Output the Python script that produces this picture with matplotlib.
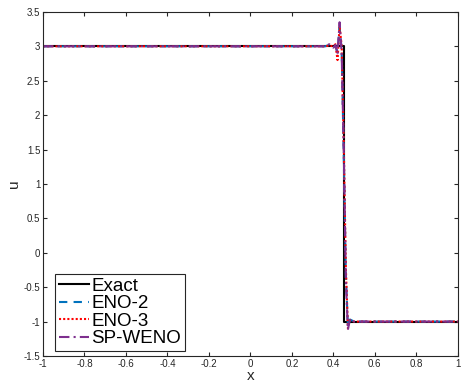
import matplotlib
matplotlib.use('Agg')
import matplotlib.pyplot as plt

plt.rcParams['font.family'] = ['Liberation Sans', 'DejaVu Sans']

# Exact solution (single shock)
exact_x = [-1.0, 0.452, 0.452, 1.0]
exact_u = [3.0, 3.0, -1.0, -1.0]

# Numerical solutions, sampled around the shock
num_x = [-1.0, 0.36, 0.38, 0.40, 0.41, 0.42, 0.43, 0.44, 0.45, 0.46, 0.47, 0.48, 0.50, 1.0]
eno2_u = [3.0, 3.0, 3.02, 2.99, 3.0, 2.92, 3.28, 2.95, 1.4, -0.3, -1.08, -0.97, -1.0, -1.0]
eno3_u = [3.0, 3.0, 3.01, 3.0, 3.03, 2.8, 3.3, 3.0, 1.6, -0.2, -1.1, -0.98, -1.0, -1.0]
spweno_u = [3.0, 3.0, 3.03, 2.98, 3.02, 2.88, 3.35, 2.9, 1.5, -0.4, -1.12, -0.96, -1.0, -1.0]

xticks = [-1, -0.8, -0.6, -0.4, -0.2, 0, 0.2, 0.4, 0.6, 0.8, 1]
xtick_labels = ['-1', '-0.8', '-0.6', '-0.4', '-0.2', '0', '0.2', '0.4', '0.6', '0.8', '1']
yticks = [-1.5, -1, -0.5, 0, 0.5, 1, 1.5, 2, 2.5, 3, 3.5]
ytick_labels = ['-1.5', '-1', '-0.5', '0', '0.5', '1', '1.5', '2', '2.5', '3', '3.5']

axis_color = '#262626'

fig = plt.figure(figsize=(4.62, 3.84), dpi=100)
ax = fig.add_axes([0.093, 0.073, 0.898, 0.896])

ax.plot(exact_x, exact_u, color='black', lw=1.5, label='Exact')
ax.plot(num_x, eno2_u, color=(0.0, 0.447, 0.741), lw=1.5, ls=(0, (4, 3)), label='ENO-2')
ax.plot(num_x, eno3_u, color='red', lw=1.5, ls=(0, (1, 1)), label='ENO-3')
ax.plot(num_x, spweno_u, color=(0.494, 0.184, 0.556), lw=1.5, ls=(0, (5, 2, 1, 2)), label='SP-WENO')

ax.set_xlim(-1, 1)
ax.set_ylim(-1.5, 3.5)
ax.set_xticks(xticks)
ax.set_xticklabels(xtick_labels)
ax.set_yticks(yticks)
ax.set_yticklabels(ytick_labels)
ax.tick_params(direction='in', top=True, right=True, length=3, width=0.8,
               labelsize=7, colors=axis_color, pad=2)
for s in ax.spines.values():
    s.set_color(axis_color)
    s.set_linewidth(0.8)

ax.set_xlabel('x', fontsize=11, color=axis_color, labelpad=0)
ax.set_ylabel('u', fontsize=11, color=axis_color, labelpad=2)

leg = ax.legend(loc='lower left', bbox_to_anchor=(0.029, 0.014), fontsize=13.5,
                handlelength=1.6, handletextpad=0.15, labelspacing=0.02,
                borderpad=0.2, borderaxespad=0, fancybox=False, framealpha=1)
leg.get_frame().set_edgecolor(axis_color)
leg.get_frame().set_linewidth(0.8)

fig.savefig('out.png', dpi=100)
